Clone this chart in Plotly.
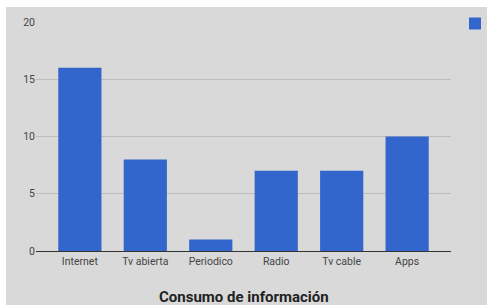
import plotly.graph_objects as go

categories = ["Internet", "Tv abierta", "Periodico", "Radio", "Tv cable", "Apps"]
values = [16, 8, 1, 7, 7, 10]
title_text = "Consumo de información"

W, H = 487, 305
PL, PR, PT, PB = 36, 451, 22, 251  # plot area in pixels


def fx(p):
    return p / W


def fy(p):
    return 1 - p / H


fig = go.Figure()
fig.add_trace(go.Bar(
    x=categories, y=values, name=" ",
    marker=dict(color="#3366cc", line=dict(width=0)),
    showlegend=True,
))

fig.update_layout(
    template="none",
    width=W, height=H,
    margin=dict(l=0, r=0, t=0, b=0, pad=0, autoexpand=False),
    paper_bgcolor="#d9d9d9",
    plot_bgcolor="#d9d9d9",
    bargap=0.34,
    font=dict(family="Roboto, Arial, sans-serif", size=10.5, color="#444444"),
    xaxis=dict(
        domain=[fx(PL), fx(PR)],
        range=[-0.67, 5.67], showgrid=False, zeroline=False,
        showline=False, ticks="", tickfont=dict(size=10.5, color="#444444"),
        fixedrange=True, automargin=False, ticklabelstandoff=2,
    ),
    yaxis=dict(
        domain=[fy(PB), fy(PT)],
        range=[0, 20], dtick=5, showgrid=True, gridcolor="#bdbdbd",
        gridwidth=1, zeroline=True, zerolinecolor="#333333", zerolinewidth=1,
        ticks="", tickfont=dict(size=10.5, color="#444444"),
        fixedrange=True, automargin=False, showline=False,
    ),
    legend=dict(
        x=fx(503), y=fy(9), xanchor="right", yanchor="top",
        bgcolor="rgba(0,0,0,0)", font=dict(size=10),
        itemwidth=30,
    ),
    shapes=[
        dict(type="rect", xref="paper", yref="paper",
             x0=fx(-2), x1=fx(6), y0=fy(H + 2), y1=fy(-2),
             fillcolor="white", line=dict(width=0), layer="below"),
        dict(type="rect", xref="paper", yref="paper",
             x0=fx(-2), x1=fx(W + 2), y0=fy(7), y1=fy(-2),
             fillcolor="white", line=dict(width=0), layer="below"),
    ],
    annotations=[
        dict(text="<b>" + title_text + "</b>", xref="paper", yref="paper",
             x=fx(244), y=fy(297), xanchor="center", yanchor="middle",
             showarrow=False, font=dict(size=15, color="#222222",
                                        family="Roboto, Arial, sans-serif")),
    ],
)

fig.write_html(
    "out.html",
    config={"displayModeBar": False},
    post_script="document.body.style.margin='0px';document.body.style.overflow='hidden';",
)
